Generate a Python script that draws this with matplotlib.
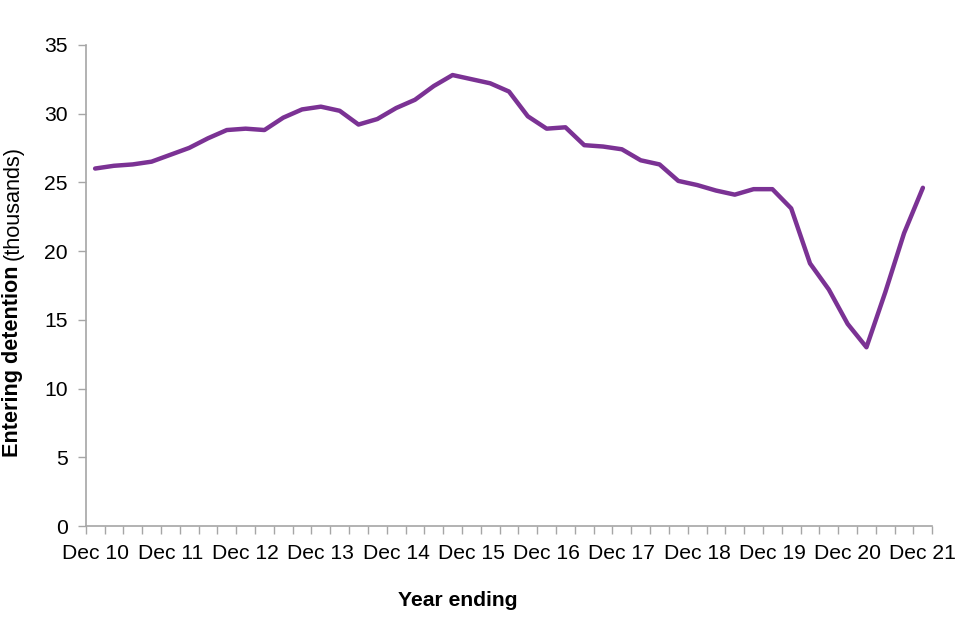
import matplotlib
matplotlib.use("Agg")
import matplotlib.pyplot as plt
import numpy as np

plt.rcParams['font.family'] = ['Liberation Sans', 'DejaVu Sans']

years = ["10", "11", "12", "13", "14", "15", "16", "17", "18", "19", "20", "21"]
tick_labels = ["Dec " + y for y in years]
values = [26.0, 26.2, 26.3, 26.5, 27.0, 27.5, 28.2, 28.8, 28.9, 28.8,
          29.7, 30.3, 30.5, 30.2, 29.2, 29.6, 30.4, 31.0, 32.0, 32.8,
          32.5, 32.2, 31.6, 29.8, 28.9, 29.0, 27.7, 27.6, 27.4, 26.6,
          26.3, 25.1, 24.8, 24.4, 24.1, 24.5, 24.5, 23.1, 19.1, 17.2,
          14.7, 13.0, 17.0, 21.3, 24.6]

line_color = "#7B3294"
grey = "#A6A6A6"
fs = 15.2

fig = plt.figure(figsize=(9.6, 6.4), dpi=100)
ax = fig.add_axes([85.7/960, 1-526/640, (932.3-85.7)/960, (526-44.8)/640])

x = np.arange(len(values))
ax.plot(x, values, color=line_color, lw=3.2, solid_joinstyle='round', solid_capstyle='round')

ax.set_xlim(-0.5, len(values) - 0.5)
ax.set_ylim(0, 35)
ax.set_yticks(np.arange(0, 36, 5))
ax.set_xticks(np.arange(0, len(values), 4))
ax.set_xticklabels(tick_labels)
ax.set_xticks(np.arange(-0.5, len(values), 1), minor=True)

for s in ['top', 'right']:
    ax.spines[s].set_visible(False)
for s in ['left', 'bottom']:
    ax.spines[s].set_color(grey)
    ax.spines[s].set_linewidth(1.2)

ax.tick_params(axis='x', which='major', length=0, pad=13, labelsize=fs, labelcolor='black')
ax.tick_params(axis='x', which='minor', length=6, width=1, color=grey, direction='out')
ax.tick_params(axis='y', which='major', length=6, width=1, color=grey, direction='out',
               pad=7, labelsize=fs, labelcolor='black')

fig.text(458/960, 1-600/640, "Year ending", ha='center', va='center',
         fontsize=fs, fontweight='bold')

# y label: bold part + normal part, rotated
fig.canvas.draw()
r = fig.canvas.get_renderer()
t1 = fig.text(13/960, 1-457/640, "Entering detention ", rotation=90, ha='center', va='bottom',
              fontsize=15.6, fontweight='bold')
bb = t1.get_window_extent(renderer=r)
t2 = fig.text(13/960, bb.y1/640, "(thousands)", rotation=90, ha='center', va='bottom',
              fontsize=15.6)

fig.savefig("out.png", dpi=100)
